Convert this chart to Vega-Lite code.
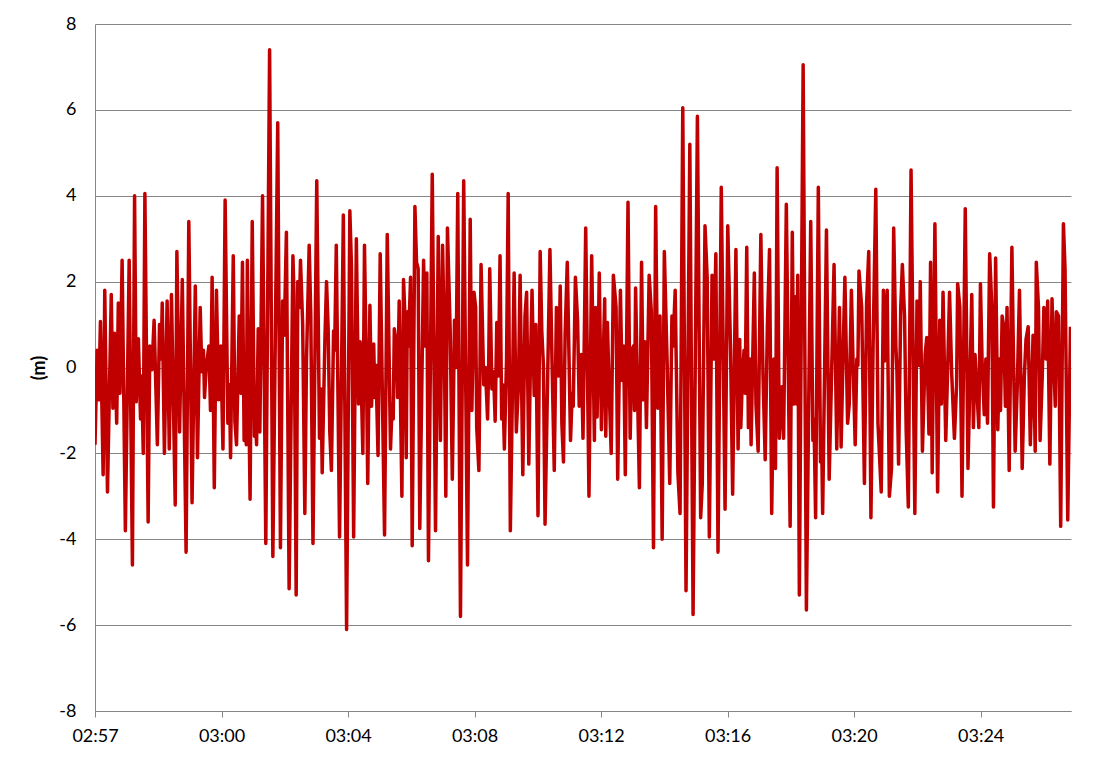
{
"$schema": "https://vega.github.io/schema/vega-lite/v6.json",
"width": 976, "height": 687,
"autosize": {"type": "none"},
"padding": {"left": 95, "top": 24, "right": 46, "bottom": 53},
"background": "white",
"config": {"view": {"stroke": null}, "font": "Lato"},
"data": {"values": [
{"t":0,"h":-1.8},{"t":4,"h":0.4},{"t":7,"h":-0.75},{"t":10,"h":1.07},{"t":15,"h":-2.5},{"t":18,"h":1.8},{"t":23,"h":-2.9},{"t":30,"h":1.7},{"t":33,"h":-0.95},{"t":36,"h":0.8},{"t":40,"h":-1.3},{"t":43,"h":1.5},{"t":46,"h":-0.6},{"t":50,"h":2.5},{"t":56,"h":-3.8},{"t":63,"h":2.5},{"t":69,"h":-4.6},{"t":73,"h":4.0},{"t":76,"h":-0.8},{"t":80,"h":0.67},{"t":84,"h":-1.2},{"t":86,"h":-0.2},{"t":89,"h":-2.0},{"t":92,"h":4.05},{"t":98,"h":-3.6},{"t":101,"h":0.5},{"t":105,"h":-0.05},{"t":109,"h":1.1},{"t":115,"h":-1.8},{"t":119,"h":1.0},{"t":122,"h":0.2},{"t":124,"h":1.5},{"t":128,"h":-2.0},{"t":133,"h":1.55},{"t":137,"h":-1.9},{"t":141,"h":1.7},{"t":148,"h":-3.2},{"t":151,"h":2.7},{"t":156,"h":-1.5},{"t":161,"h":2.05},{"t":168,"h":-4.3},{"t":173,"h":3.4},{"t":179,"h":-3.15},
{"t":185,"h":1.9},{"t":189,"h":-2.1},{"t":194,"h":1.4},{"t":197,"h":-0.1},{"t":200,"h":0.4},{"t":202,"h":-0.7},{"t":205,"h":0.0},{"t":210,"h":0.5},{"t":213,"h":-1.0},{"t":216,"h":2.1},{"t":220,"h":-2.8},{"t":224,"h":1.8},{"t":228,"h":-0.75},{"t":232,"h":0.5},{"t":236,"h":-1.9},{"t":240,"h":3.9},{"t":245,"h":-1.3},{"t":248,"h":-0.4},{"t":250,"h":-2.1},{"t":255,"h":2.6},{"t":258,"h":-1.25},{"t":261,"h":-1.8},{"t":266,"h":1.2},{"t":269,"h":-0.6},{"t":272,"h":2.45},{"t":275,"h":-1.7},{"t":277,"h":-1.2},{"t":279,"h":-1.8},{"t":281,"h":2.5},{"t":283,"h":-0.1},{"t":286,"h":-3.07},{"t":290,"h":3.4},{"t":294,"h":-1.6},{"t":296,"h":-1.2},{"t":298,"h":-1.8},{"t":301,"h":0.9},{"t":304,"h":-1.5},{"t":309,"h":4.0},{"t":315,"h":-4.1},{"t":322,"h":7.4},{"t":328,"h":-4.4},{"t":337,"h":5.7},{"t":342,"h":-4.2},{"t":346,"h":1.55},{"t":349,"h":0.75},{"t":353,"h":3.15},{"t":358,"h":-5.15},
{"t":365,"h":2.6},{"t":367,"h":1.7},{"t":371,"h":-5.3},{"t":374,"h":2.0},{"t":377,"h":1.4},{"t":379,"h":2.5},{"t":383,"h":1.0},{"t":387,"h":-3.4},{"t":390,"h":0.13},{"t":395,"h":2.85},{"t":398,"h":1.2},{"t":402,"h":-4.1},{"t":409,"h":4.35},{"t":414,"h":-1.65},{"t":417,"h":-0.5},{"t":419,"h":-2.45},{"t":424,"h":0.65},{"t":427,"h":2.0},{"t":430,"h":0.9},{"t":433,"h":-1.5},{"t":436,"h":-2.4},{"t":440,"h":0.85},{"t":442,"h":0.4},{"t":445,"h":2.85},{"t":451,"h":-3.95},{"t":458,"h":3.55},{"t":464,"h":-6.1},{"t":470,"h":3.65},{"t":473,"h":2.35},{"t":477,"h":-3.95},{"t":482,"h":3.0},{"t":486,"h":-0.85},{"t":489,"h":0.6},{"t":492,"h":-0.9},{"t":494,"h":-2.0},{"t":497,"h":2.85},{"t":501,"h":-0.5},{"t":503,"h":-2.7},{"t":507,"h":1.45},{"t":510,"h":-0.9},{"t":514,"h":0.55},{"t":516,"h":-0.7},{"t":518,"h":0.05},{"t":522,"h":-2.05},{"t":526,"h":2.65},{"t":534,"h":-3.9},{"t":539,"h":3.1},
{"t":545,"h":-1.9},{"t":548,"h":-0.85},{"t":550,"h":-1.2},{"t":552,"h":0.9},{"t":556,"h":0.5},{"t":558,"h":-0.7},{"t":561,"h":1.55},{"t":564,"h":-1.3},{"t":566,"h":-3.0},{"t":569,"h":2.05},{"t":571,"h":1.4},{"t":574,"h":-2.1},{"t":576,"h":1.3},{"t":578,"h":0.5},{"t":582,"h":2.1},{"t":585,"h":-4.15},{"t":590,"h":3.75},{"t":593,"h":2.45},{"t":596,"h":2.3},{"t":599,"h":-3.75},{"t":606,"h":2.5},{"t":609,"h":0.5},{"t":612,"h":2.2},{"t":615,"h":-4.5},{"t":622,"h":4.5},{"t":628,"h":-3.8},{"t":633,"h":3.05},{"t":637,"h":-1.7},{"t":641,"h":2.85},{"t":644,"h":0.85},{"t":647,"h":-3.0},{"t":650,"h":3.25},{"t":655,"h":0.9},{"t":659,"h":-2.6},{"t":663,"h":1.1},{"t":666,"h":0.0},{"t":669,"h":4.05},{"t":674,"h":-5.8},{"t":680,"h":4.35},{"t":687,"h":-4.6},{"t":692,"h":3.45},{"t":695,"h":-1.0},{"t":699,"h":1.75},{"t":702,"h":1.4},{"t":704,"h":-1.4},{"t":708,"h":-2.4},{"t":712,"h":2.4},{"t":717,"h":-0.4},{"t":720,"h":0.0},
{"t":724,"h":-1.2},{"t":726,"h":0.0},{"t":728,"h":2.3},{"t":732,"h":-0.5},{"t":735,"h":-0.1},{"t":738,"h":-1.25},{"t":741,"h":1.05},{"t":744,"h":-0.2},{"t":747,"h":2.6},{"t":750,"h":-1.2},{"t":752,"h":-0.4},{"t":755,"h":-1.9},{"t":759,"h":0.2},{"t":762,"h":4.05},{"t":766,"h":-3.8},{"t":770,"h":-0.4},{"t":773,"h":2.2},{"t":777,"h":-1.5},{"t":781,"h":-0.4},{"t":784,"h":2.15},{"t":789,"h":-2.5},{"t":793,"h":1.2},{"t":796,"h":1.75},{"t":800,"h":-2.25},{"t":803,"h":0.05},{"t":806,"h":1.8},{"t":810,"h":-0.65},{"t":813,"h":1.0},{"t":817,"h":-3.45},{"t":821,"h":2.7},{"t":824,"h":0.85},{"t":827,"h":0.05},{"t":830,"h":-3.65},{"t":839,"h":2.75},{"t":843,"h":0.05},{"t":847,"h":-2.4},{"t":851,"h":1.4},{"t":855,"h":-0.2},{"t":858,"h":1.9},{"t":861,"h":-1.3},{"t":864,"h":-2.2},{"t":867,"h":0.75},{"t":871,"h":2.45},{"t":877,"h":-1.7},{"t":880,"h":-0.6},{"t":882,"h":-0.9},{"t":886,"h":2.1},{"t":890,"h":1.1},{"t":893,"h":-0.9},{"t":897,"h":0.3},{"t":900,"h":-1.65},
{"t":905,"h":3.25},{"t":911,"h":-3.0},{"t":916,"h":2.6},{"t":921,"h":-1.7},{"t":923,"h":1.4},{"t":926,"h":-1.15},{"t":930,"h":2.2},{"t":934,"h":-1.45},{"t":937,"h":0.05},{"t":940,"h":1.6},{"t":942,"h":-1.6},{"t":945,"h":1.05},{"t":948,"h":-0.4},{"t":952,"h":-2.0},{"t":956,"h":2.15},{"t":961,"h":1.4},{"t":964,"h":-2.6},{"t":969,"h":1.8},{"t":972,"h":-0.3},{"t":975,"h":0.5},{"t":978,"h":-2.5},{"t":983,"h":3.85},{"t":987,"h":-1.65},{"t":990,"h":0.4},{"t":993,"h":0.5},{"t":995,"h":-1.0},{"t":997,"h":1.85},{"t":1000,"h":-0.2},{"t":1004,"h":-2.8},{"t":1008,"h":2.45},{"t":1011,"h":-0.75},{"t":1014,"h":0.6},{"t":1017,"h":-1.4},{"t":1022,"h":2.15},{"t":1026,"h":1.3},{"t":1030,"h":-4.2},{"t":1034,"h":3.75},{"t":1038,"h":-0.95},{"t":1042,"h":1.2},{"t":1046,"h":-4.0},{"t":1050,"h":2.7},{"t":1055,"h":0.2},{"t":1060,"h":-2.7},{"t":1064,"h":1.2},{"t":1066,"h":0.5},{"t":1070,"h":1.8},{"t":1075,"h":-2.45},{"t":1079,"h":-3.4},
{"t":1084,"h":6.05},{"t":1090,"h":-5.2},{"t":1097,"h":5.2},{"t":1103,"h":-5.75},{"t":1111,"h":5.85},{"t":1117,"h":-3.5},{"t":1120,"h":-2.7},{"t":1125,"h":3.3},{"t":1129,"h":2.1},{"t":1133,"h":-3.95},{"t":1138,"h":2.15},{"t":1141,"h":0.2},{"t":1145,"h":2.65},{"t":1149,"h":-4.3},{"t":1155,"h":4.2},{"t":1162,"h":-3.3},{"t":1167,"h":3.3},{"t":1172,"h":0.5},{"t":1176,"h":-2.95},{"t":1182,"h":2.75},{"t":1186,"h":-1.9},{"t":1189,"h":0.65},{"t":1191,"h":-1.4},{"t":1194,"h":-0.2},{"t":1197,"h":0.4},{"t":1199,"h":-0.6},{"t":1202,"h":2.8},{"t":1205,"h":-1.4},{"t":1208,"h":0.2},{"t":1210,"h":-1.8},{"t":1216,"h":2.2},{"t":1219,"h":-0.85},{"t":1223,"h":-1.95},{"t":1228,"h":3.1},{"t":1232,"h":-0.2},{"t":1236,"h":-2.15},{"t":1240,"h":0.95},{"t":1244,"h":2.75},{"t":1248,"h":-3.4},{"t":1252,"h":0.2},{"t":1255,"h":-2.35},{"t":1258,"h":4.65},{"t":1262,"h":-1.65},
{"t":1267,"h":-0.45},{"t":1270,"h":-1.65},{"t":1275,"h":3.8},{"t":1282,"h":-3.7},{"t":1286,"h":3.15},{"t":1289,"h":-0.85},{"t":1291,"h":1.65},{"t":1294,"h":-0.85},{"t":1296,"h":2.15},{"t":1299,"h":-5.3},{"t":1306,"h":7.05},{"t":1312,"h":-5.65},{"t":1320,"h":3.4},{"t":1324,"h":-1.7},{"t":1326,"h":-1.2},{"t":1329,"h":-3.5},{"t":1334,"h":4.2},{"t":1338,"h":-2.2},{"t":1340,"h":-1.6},{"t":1342,"h":-3.4},{"t":1349,"h":3.2},{"t":1354,"h":-2.6},{"t":1358,"h":-0.4},{"t":1363,"h":2.4},{"t":1368,"h":-1.9},{"t":1373,"h":1.4},{"t":1376,"h":-1.85},{"t":1380,"h":0.5},{"t":1383,"h":2.1},{"t":1388,"h":-1.3},{"t":1391,"h":-0.85},{"t":1395,"h":1.8},{"t":1398,"h":0.15},{"t":1402,"h":-1.8},{"t":1405,"h":0.2},{"t":1407,"h":0.05},{"t":1409,"h":2.25},{"t":1414,"h":1.4},{"t":1419,"h":-2.7},{"t":1423,"h":1.5},{"t":1427,"h":2.7},{"t":1431,"h":-3.5},{"t":1435,"h":0.5},{"t":1440,"h":4.15},{"t":1444,"h":-1.3},
{"t":1450,"h":-2.9},{"t":1454,"h":1.8},{"t":1456,"h":0.15},{"t":1461,"h":1.8},{"t":1465,"h":-3.0},{"t":1469,"h":-2.35},{"t":1473,"h":3.25},{"t":1477,"h":0.5},{"t":1479,"h":-0.1},{"t":1482,"h":-2.25},{"t":1486,"h":1.4},{"t":1489,"h":2.4},{"t":1493,"h":1.2},{"t":1496,"h":-1.45},{"t":1500,"h":-3.25},{"t":1505,"h":4.6},{"t":1512,"h":-3.4},{"t":1516,"h":1.55},{"t":1520,"h":0.05},{"t":1522,"h":2.0},{"t":1526,"h":-1.95},{"t":1531,"h":0.3},{"t":1534,"h":0.7},{"t":1538,"h":-1.55},{"t":1541,"h":2.45},{"t":1544,"h":-2.45},{"t":1549,"h":3.35},{"t":1554,"h":-2.9},{"t":1558,"h":1.1},{"t":1561,"h":-0.85},{"t":1564,"h":1.75},{"t":1569,"h":-1.7},{"t":1573,"h":0.2},{"t":1576,"h":1.75},{"t":1580,"h":-0.15},{"t":1585,"h":-1.65},{"t":1589,"h":-0.4},{"t":1591,"h":1.95},{"t":1595,"h":1.4},{"t":1599,"h":-3.0},{"t":1605,"h":3.7},{"t":1610,"h":-2.35},{"t":1615,"h":0.5},{"t":1617,"h":1.7},{"t":1620,"h":-1.4},{"t":1623,"h":0.3},
{"t":1630,"h":-1.4},{"t":1633,"h":1.95},{"t":1636,"h":0.15},{"t":1640,"h":-1.1},{"t":1643,"h":0.2},{"t":1646,"h":-1.3},{"t":1650,"h":2.65},{"t":1654,"h":1.4},{"t":1657,"h":-3.25},{"t":1661,"h":2.55},{"t":1665,"h":-1.45},{"t":1668,"h":0.2},{"t":1670,"h":-1.0},{"t":1673,"h":1.2},{"t":1676,"h":0.95},{"t":1679,"h":-0.9},{"t":1682,"h":1.4},{"t":1686,"h":-2.4},{"t":1691,"h":2.8},{"t":1694,"h":0.15},{"t":1697,"h":-1.95},{"t":1701,"h":-0.4},{"t":1705,"h":1.8},{"t":1710,"h":-2.35},{"t":1714,"h":-0.2},{"t":1717,"h":0.65},{"t":1721,"h":0.95},{"t":1725,"h":-1.8},{"t":1728,"h":-0.3},{"t":1730,"h":0.75},{"t":1734,"h":-1.95},{"t":1736,"h":2.45},{"t":1740,"h":1.4},{"t":1743,"h":-1.7},{"t":1747,"h":-0.2},{"t":1750,"h":1.4},{"t":1754,"h":0.2},{"t":1757,"h":1.55},{"t":1761,"h":-2.25},{"t":1765,"h":1.6},{"t":1768,"h":0.2},{"t":1771,"h":-0.9},{"t":1773,"h":1.3},{"t":1777,"h":1.2},{"t":1781,"h":-3.7},{"t":1786,"h":3.35},{"t":1789,"h":2.3},{"t":1794,"h":-3.55},{"t":1799,"h":0.95}
]},
"mark": {"type": "line", "color": "#C00000", "strokeWidth": 3.5, "strokeJoin": "round", "clip": true},
"encoding": {
  "x": {"field": "t", "type": "quantitative",
    "scale": {"domain": [0, 1800], "nice": false, "zero": false},
    "axis": {"values": [0, 233.333, 466.667, 700, 933.333, 1166.667, 1400, 1633.333],
      "labelExpr": "['02:57','03:00','03:04','03:08','03:12','03:16','03:20','03:24'][round(datum.value/233.333)]",
      "title": null, "grid": false, "domainColor": "#868686", "tickColor": "#868686", "tickSize": 6,
      "labelPadding": 10, "labelFontSize": 18, "labelColor": "#000000", "labelFlush": false, "labelFont": "Lato"}},
  "y": {"field": "h", "type": "quantitative",
    "scale": {"domain": [-8, 8], "nice": false, "zero": false},
    "axis": {"values": [-8, -6, -4, -2, 0, 2, 4, 6, 8],
      "labelExpr": "datum.value < 0 ? '-' + abs(datum.value) : '' + datum.value",
      "title": "(m)", "titleFontWeight": "bold", "titleFontSize": 18,
      "titleColor": "#000000", "titlePadding": 10, "titleFont": "Lato", "ticks": false, "labelPadding": 19,
      "gridColor": "#868686", "gridWidth": 1, "domainColor": "#868686", "labelFontSize": 18, "labelColor": "#000000", "labelFont": "Lato"}}
}
}
